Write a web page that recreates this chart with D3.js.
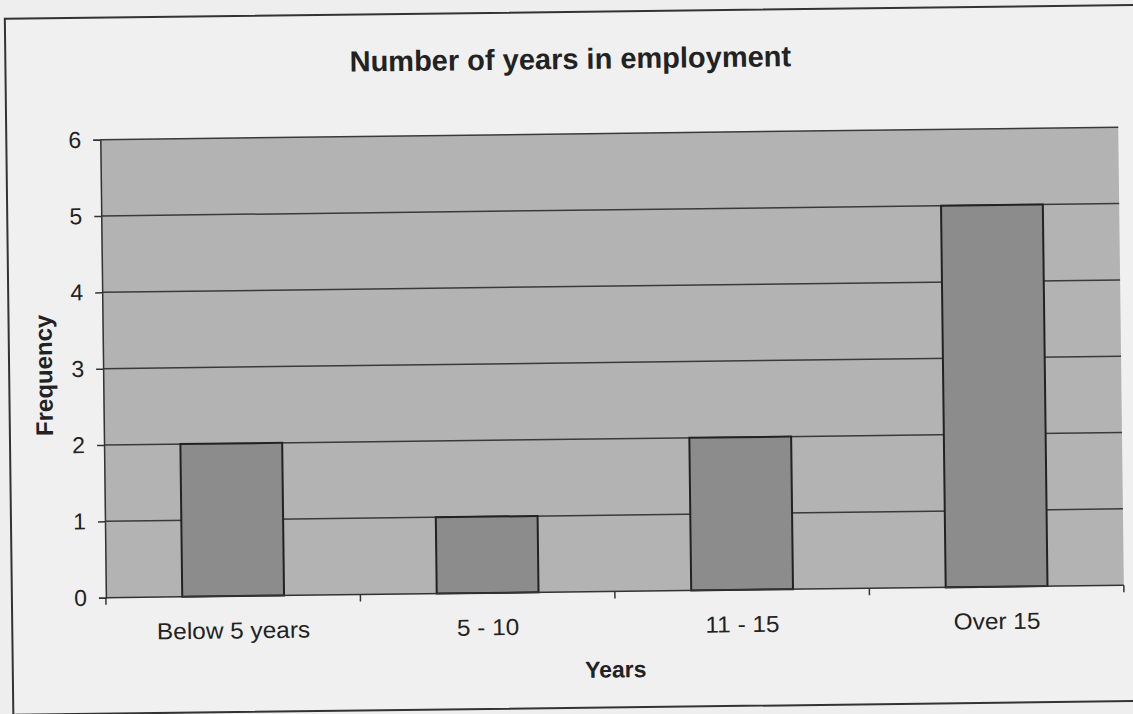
<!DOCTYPE html>
<html lang="en">
	<head>
		<meta charset="utf-8">
		<title>Number of years in employment</title>
		<script type="text/javascript" src="https://cdn.jsdelivr.net/npm/d3@7"></script>
		<style type="text/css">
			body { margin: 0; background: #eeeeee; }
			text { font-family: "Liberation Sans", Arial, sans-serif; fill: #222; }
		</style>
	</head>
	<body>
		<script type="text/javascript">

			//Data
			var categories = ["Below 5 years", "5 - 10", "11 - 15", "Over 15"];
			var frequency = [2, 1, 2, 5];
			var yTicks = [0, 1, 2, 3, 4, 5, 6];
			var chartTitle = "Number of years in employment";
			var xTitle = "Years";
			var yTitle = "Frequency";

			//Width and height
			var w = 1133;
			var h = 714;

			//Plot area (before the slight scan tilt)
			var plot = { left: 103, right: 1121, top: 134, bottom: 592 };

			var svg = d3.select("body")
						.append("svg")
						.attr("width", w)
						.attr("height", h);

			//The scanned page is tilted a little
			var g = svg.append("g")
					   .attr("transform", "rotate(-0.7, 566, 357)");

			//Chart frame
			g.append("rect")
			 .attr("x", 9)
			 .attr("y", 12)
			 .attr("width", 1131)
			 .attr("height", 696)
			 .attr("fill", "#f0f0f0")
			 .attr("stroke", "#333")
			 .attr("stroke-width", 2);

			var x = d3.scaleBand()
					  .domain(categories)
					  .range([plot.left, plot.right])
					  .paddingInner(0.6)
					  .paddingOuter(0.3);

			var y = d3.scaleLinear()
					  .domain([0, 6])
					  .range([plot.bottom, plot.top]);

			//Plot area fill
			g.append("rect")
			 .attr("x", plot.left)
			 .attr("y", plot.top)
			 .attr("width", plot.right - plot.left)
			 .attr("height", plot.bottom - plot.top)
			 .attr("fill", "#b3b3b3");

			//Gridlines
			g.selectAll("line.grid")
			 .data(yTicks.slice(1))
			 .enter()
			 .append("line")
			 .attr("class", "grid")
			 .attr("x1", plot.left)
			 .attr("x2", plot.right)
			 .attr("y1", function(d) { return y(d); })
			 .attr("y2", function(d) { return y(d); })
			 .attr("stroke", "#3a3a3a")
			 .attr("stroke-width", 1.5);

			//Bars
			g.selectAll("rect.bar")
			 .data(frequency)
			 .enter()
			 .append("rect")
			 .attr("class", "bar")
			 .attr("x", function(d, i) { return x(categories[i]); })
			 .attr("y", function(d) { return y(d); })
			 .attr("width", x.bandwidth())
			 .attr("height", function(d) { return y(0) - y(d); })
			 .attr("fill", "#8c8c8c")
			 .attr("stroke", "#222")
			 .attr("stroke-width", 2);

			//Y axis
			var yAxis = d3.axisLeft(y)
						  .tickValues(yTicks)
						  .tickFormat(d3.format("d"))
						  .tickSize(7)
						  .tickPadding(12);

			var yg = g.append("g")
					  .attr("transform", "translate(" + plot.left + ",0)")
					  .call(yAxis);
			yg.select(".domain").attr("stroke", "#333").attr("stroke-width", 1.5);
			yg.selectAll(".tick line").attr("stroke", "#333").attr("stroke-width", 1.5);
			yg.selectAll(".tick text")
			  .attr("font-size", "23px")
			  .style("font-family", "'Liberation Sans', Arial, sans-serif")
			  .attr("fill", "#222");

			//X axis labels
			var xAxis = d3.axisBottom(x)
						  .tickSize(0)
						  .tickPadding(26);

			var xg = g.append("g")
					  .attr("transform", "translate(0," + plot.bottom + ")")
					  .call(xAxis);
			xg.select(".domain").remove();
			xg.selectAll(".tick text")
			  .attr("font-size", "23px")
			  .style("font-family", "'Liberation Sans', Arial, sans-serif")
			  .attr("fill", "#222")
			  .each(function() {
				  //scan is a little wider than the font
				  var len = this.getComputedTextLength();
				  d3.select(this)
					.attr("textLength", len * 1.06)
					.attr("lengthAdjust", "spacingAndGlyphs");
			  });

			//X axis line and category boundary ticks
			g.append("line")
			 .attr("x1", plot.left)
			 .attr("x2", plot.right)
			 .attr("y1", plot.bottom)
			 .attr("y2", plot.bottom)
			 .attr("stroke", "#333")
			 .attr("stroke-width", 1.5);

			var bounds = categories.map(function(c) { return x(c) - x.step() * x.paddingOuter(); });
			bounds.push(plot.right);

			g.selectAll("line.xtick")
			 .data(bounds)
			 .enter()
			 .append("line")
			 .attr("class", "xtick")
			 .attr("x1", function(d) { return d; })
			 .attr("x2", function(d) { return d; })
			 .attr("y1", plot.bottom)
			 .attr("y2", plot.bottom + 7)
			 .attr("stroke", "#333")
			 .attr("stroke-width", 1.5);

			//Titles
			g.append("text")
			 .text(chartTitle)
			 .attr("x", 574)
			 .attr("y", 69)
			 .attr("text-anchor", "middle")
			 .attr("font-size", "29px")
			 .attr("font-weight", "bold");

			g.append("text")
			 .text(xTitle)
			 .attr("x", (plot.left + plot.right) / 2)
			 .attr("y", 678)
			 .attr("text-anchor", "middle")
			 .attr("font-size", "23px")
			 .attr("font-weight", "bold");

			g.append("text")
			 .text(yTitle)
			 .attr("transform", "translate(52,369) rotate(-90)")
			 .attr("text-anchor", "middle")
			 .attr("font-size", "24px")
			 .attr("font-weight", "bold");

		</script>
	</body>
</html>
